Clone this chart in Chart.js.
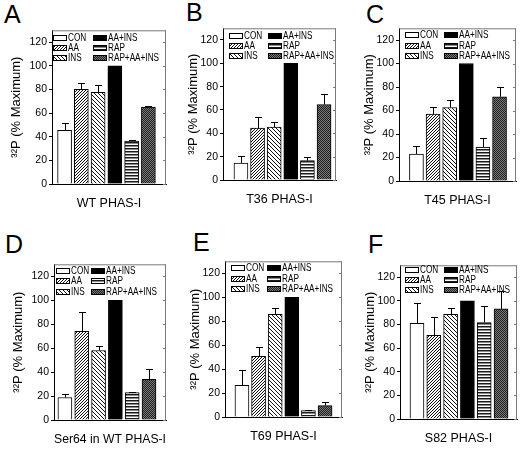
<!DOCTYPE html>
<html><head><meta charset="utf-8">
<script src="https://cdn.jsdelivr.net/npm/chart.js@4.4.1/dist/chart.umd.min.js"></script>
<style>
body{margin:0;background:#fff;width:524px;height:449px;position:relative;overflow:hidden;font-family:"Liberation Sans",Arial,sans-serif;}
canvas{position:absolute;}
.lbl{position:absolute;font-size:25px;line-height:1;color:#000;font-family:"Liberation Sans",Arial,sans-serif;}
</style></head><body>
<div class="lbl" style="left:4px;top:2px">A</div>
<div class="lbl" style="left:186px;top:0px">B</div>
<div class="lbl" style="left:366px;top:2px">C</div>
<div class="lbl" style="left:5px;top:232px">D</div>
<div class="lbl" style="left:193px;top:230px">E</div>
<div class="lbl" style="left:368px;top:232px">F</div>
<canvas id="cA"></canvas><canvas id="cB"></canvas><canvas id="cC"></canvas>
<canvas id="cD"></canvas><canvas id="cE"></canvas><canvas id="cF"></canvas>
<script>
// ---- data ----
const categories = ["CON", "AA", "INS", "AA+INS", "RAP", "RAP+AA+INS"];
const panelTitles = ["WT PHAS-I", "T36 PHAS-I", "T45 PHAS-I", "Ser64 in WT PHAS-I", "T69 PHAS-I", "S82 PHAS-I"];
const yTicks = [0, 20, 40, 60, 80, 100, 120];
const yAxisTitle = "\u00B3\u00B2P (% Maximum)";

const wtValues    = [45.3, 80.0, 77.6, 100, 36.3, 65.0];
const wtErrors    = [5.9, 5.6, 6.1, 0, 0.7, 0.9];
const t36Values   = [14.6, 44.5, 45.3, 100, 16.7, 64.7];
const t36Errors   = [5.6, 9.4, 4.8, 0, 2.7, 9.4];
const t45Values   = [23.0, 57.0, 62.6, 100, 28.9, 71.7];
const t45Errors   = [7.2, 6.4, 6.1, 0, 8.0, 8.0];
const ser64Values = [18.8, 74.0, 58.0, 100, 22.8, 33.9];
const ser64Errors = [2.6, 16.0, 3.4, 0, 0.5, 8.4];
const t69Values   = [26.5, 50.7, 85.7, 100, 5.3, 9.5];
const t69Errors   = [12.5, 7.7, 5.3, 0, 0.8, 3.0];
const s82Values   = [81.0, 70.8, 88.6, 100, 81.6, 93.2];
const s82Errors   = [16.8, 15.7, 5.7, 0, 13.8, 14.8];

// ---- layout (positions only) ----
const panels = [
  {id:"cA", values:wtValues,    errors:wtErrors,    title:panelTitles[0], L:52,  R:166, T:30,  B:192, W:45, xMin:0.25, xMax:7.05, lc:[1,41], lr:[8,18,28]},
  {id:"cB", values:t36Values,   errors:t36Errors,   title:panelTitles[1], L:223, R:336, T:28,  B:188, W:39, xMin:-0.08, xMax:6.72, lc:[6,45], lr:[8,18,28]},
  {id:"cC", values:t45Values,   errors:t45Errors,   title:panelTitles[2], L:399, R:516, T:28,  B:189, W:39, xMin:-0.05, xMax:6.99, lc:[6,45], lr:[7,18,28]},
  {id:"cD", values:ser64Values, errors:ser64Errors, title:panelTitles[3], L:54,  R:166, T:264, B:428, W:45, xMin:0.35, xMax:7.01, lc:[2,37], lr:[7,17,28]},
  {id:"cE", values:t69Values,   errors:t69Errors,   title:panelTitles[4], L:225, R:342, T:261, B:425, W:39, xMin:-0.02, xMax:7.02, lc:[6,42], lr:[7,18,28]},
  {id:"cF", values:s82Values,   errors:s82Errors,   title:panelTitles[5], L:400, R:517, T:265, B:427, W:39, xMin:-0.01, xMax:6.95, lc:[5,44], lr:[5,15,25]}
];

const FONT = '"Liberation Sans", Arial, Helvetica, sans-serif';
Chart.defaults.font.family = FONT;
Chart.defaults.color = '#000';

function tile(n, m, fn){
  const c = document.createElement('canvas'); c.width = n; c.height = m;
  const g = c.getContext('2d');
  for (let y=0;y<m;y++) for (let x=0;x<n;x++){ g.fillStyle = fn(x,y); g.fillRect(x,y,1,1); }
  return c;
}
const pctx = document.createElement('canvas').getContext('2d');
const tiles = [
  tile(1,1,()=>'#fff'),
  tile(3,3,(x,y)=>((x+y)%3===2)?'#111':'#fff'),
  tile(4,4,(x,y)=>(((x-y)%4+4)%4===0)?'#111':'#fff'),
  tile(1,1,()=>'#000'),
  tile(1,3,(x,y)=>['#1a1a1a','#8a8a8a','#fafafa'][y]),
  tile(2,2,(x,y)=>((x+y)%2===0)?'#222':'#777')
];
const patterns = tiles.map(t=>pctx.createPattern(t,'repeat'));

const framePlugin = {
  id:'frame',
  afterDraw(chart){
    const {ctx, chartArea:a} = chart; const ys = chart.scales.y;
    ctx.save();
    ctx.strokeStyle = '#7a7a7a'; ctx.lineWidth = 1;
    ctx.beginPath();
    ctx.moveTo(a.left, a.top+0.5); ctx.lineTo(a.right, a.top+0.5);
    ctx.moveTo(a.right-0.5, a.top); ctx.lineTo(a.right-0.5, a.bottom);
    yTicks.forEach(v=>{ const y=Math.round(ys.getPixelForValue(v))+0.5; ctx.moveTo(a.right-3, y); ctx.lineTo(a.right, y); });
    ctx.stroke();
    ctx.restore();
  }
};
const errorPlugin = {
  id:'errs',
  afterDatasetsDraw(chart){
    const {ctx} = chart; const ys = chart.scales.y;
    const errs = chart.options.plugins.errs.errors;
    const vals = chart.options.plugins.errs.values;
    const meta = chart.getDatasetMeta(0);
    ctx.save(); ctx.strokeStyle = '#000'; ctx.lineWidth = 1;
    meta.data.forEach((el,i)=>{
      if (!errs[i]) return;
      const x = Math.round(el.x)+0.5;
      const yTop = Math.round(ys.getPixelForValue(vals[i]+errs[i]))+0.5;
      ctx.beginPath();
      ctx.moveTo(x, el.y); ctx.lineTo(x, yTop);
      ctx.moveTo(x-3.5, yTop); ctx.lineTo(x+3.5, yTop);
      ctx.stroke();
    });
    ctx.restore();
  }
};
const legendPlugin = {
  id:'boxlegend',
  afterDraw(chart){
    const o = chart.options.plugins.boxlegend;
    const {ctx, chartArea:a} = chart;
    ctx.save();
    ctx.font = '10px ' + FONT;
    ctx.textBaseline = 'middle';
    categories.forEach((name,i)=>{
      const col = i<3?0:1, row = i%3;
      const bx = Math.round(a.left + o.lc[col]), by = Math.round(a.top + o.lr[row]) - 3;
      ctx.fillStyle = patterns[i]; ctx.fillRect(bx, by, 14, 6);
      ctx.strokeStyle = '#000'; ctx.lineWidth = 1; ctx.strokeRect(bx+0.5, by+0.5, 13, 5);
      ctx.save();
      ctx.translate(bx+15, by+3.5); ctx.scale(0.82, 1);
      ctx.fillStyle = '#000'; ctx.fillText(name, 0, 0);
      ctx.restore();
    });
    ctx.restore();
  }
};

panels.forEach(p=>{
  const cv = document.getElementById(p.id);
  const left = p.L - p.W, top = p.T - 8;
  const w = p.W + (p.R - p.L) + 2, h = (p.B - top) + 23;
  cv.width = w; cv.height = h;
  cv.style.left = left + 'px'; cv.style.top = top + 'px';
  cv.style.width = w + 'px'; cv.style.height = h + 'px';
  new Chart(cv, {
    type:'bar',
    data:{ datasets:[{ data:p.values.map((v,i)=>({x:i+1, y:v})), backgroundColor:patterns, borderColor:'#000', borderWidth:1, barThickness:14 }]},
    options:{
      responsive:false, animation:false, devicePixelRatio:1,
      layout:{padding:{top:8, right:2, left:0, bottom:0}},
      plugins:{ legend:{display:false}, tooltip:{enabled:false},
        errs:{errors:p.errors, values:p.values}, boxlegend:{lc:p.lc, lr:p.lr} },
      scales:{
        x:{ type:'linear', min:p.xMin, max:p.xMax, offset:false,
            grid:{display:false}, border:{display:true, color:'#000', width:1},
            ticks:{display:false},
            title:{display:true, text:p.title, color:'#000', font:{size:12.5}, padding:{top:4, bottom:4}} },
        y:{ min:0, max:130,
            afterBuildTicks(s){ s.ticks = yTicks.map(v=>({value:v})); },
            ticks:{ font:{size:10.5}, color:'#000', padding:2 },
            grid:{ display:true, drawOnChartArea:false, drawTicks:true, tickLength:3, color:'#000' },
            border:{ display:true, color:'#000', width:1 },
            title:{ display:true, text:yAxisTitle, color:'#000', font:{size:13}, padding:{top:2, bottom:0} },
            afterFit(s){ s.width = p.W; } }
      }
    },
    plugins:[framePlugin, errorPlugin, legendPlugin]
  });
});
</script>
</body></html>
